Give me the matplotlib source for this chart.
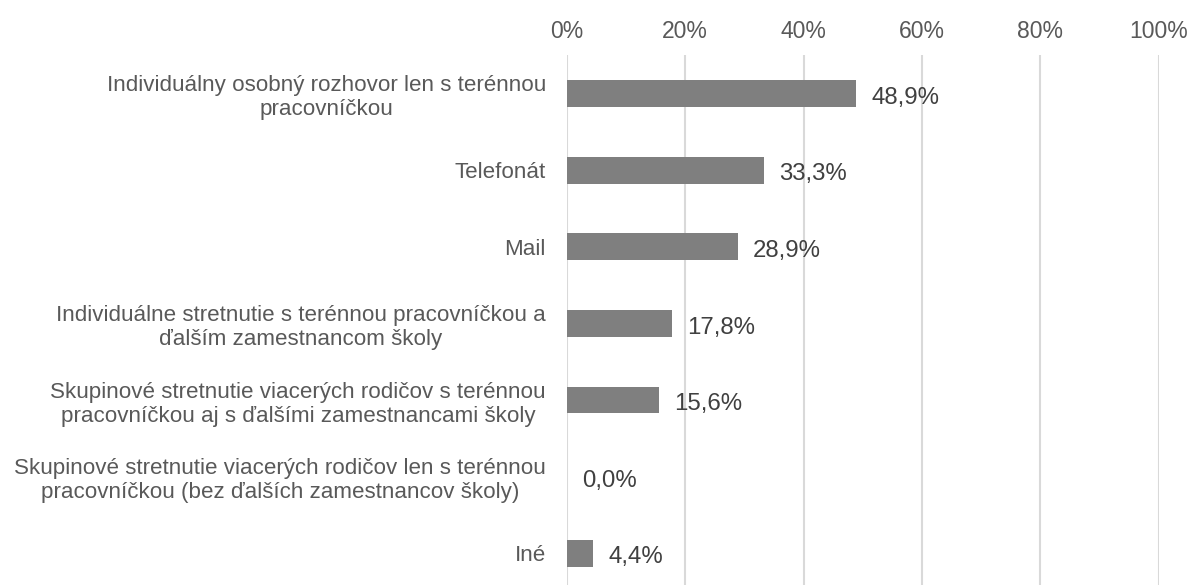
import matplotlib
matplotlib.use("Agg")
import matplotlib.pyplot as plt
from matplotlib.ticker import FuncFormatter

categories = [
    "Individuálny osobný rozhovor len s terénnou\npracovníčkou",
    "Telefonát",
    "Mail",
    "Individuálne stretnutie s terénnou pracovníčkou a\nďalším zamestnancom školy",
    "Skupinové stretnutie viacerých rodičov s terénnou\npracovníčkou aj s ďalšími zamestnancami školy",
    "Skupinové stretnutie viacerých rodičov len s terénnou\npracovníčkou (bez ďalších zamestnancov školy)",
    "Iné",
]
values = [48.9, 33.3, 28.9, 17.8, 15.6, 0.0, 4.4]
xticks = [0, 20, 40, 60, 80, 100]

plt.rcParams['font.family'] = ['Liberation Sans', 'DejaVu Sans']
text_color = "#595959"

fig = plt.figure(figsize=(11.92, 5.85), dpi=100)
ax = fig.add_axes([566.7/1192, 0, (1158.7-566.7)/1192, 1 - 55/585])

ypos = list(range(len(categories)))
ax.barh(ypos, values, height=0.35, color="#7f7f7f", zorder=3)
ax.set_xlim(0, 100)
ax.set_ylim(6.414, -0.505)

ax.xaxis.tick_top()
ax.set_xticks(xticks)
ax.xaxis.set_major_formatter(FuncFormatter(lambda v, p: f"{int(v)}%"))
ax.tick_params(axis='x', length=0, pad=9, labelsize=16.5, labelcolor=text_color)
ax.set_yticks(ypos)
ax.set_yticklabels(categories, fontsize=16.1, color=text_color, multialignment='center')
ax.tick_params(axis='y', length=0, pad=15)
ax.grid(axis='x', color="#d9d9d9", linewidth=1.5, zorder=0)
for s in ax.spines.values():
    s.set_visible(False)

for y, v in zip(ypos, values):
    ax.annotate(f"{v:.1f}%".replace(".", ","), xy=(v, y), xytext=(11, -3),
                textcoords="offset points", va="center", ha="left",
                fontsize=17.3, color="#404040")

fig.savefig("out.png", dpi=100)
